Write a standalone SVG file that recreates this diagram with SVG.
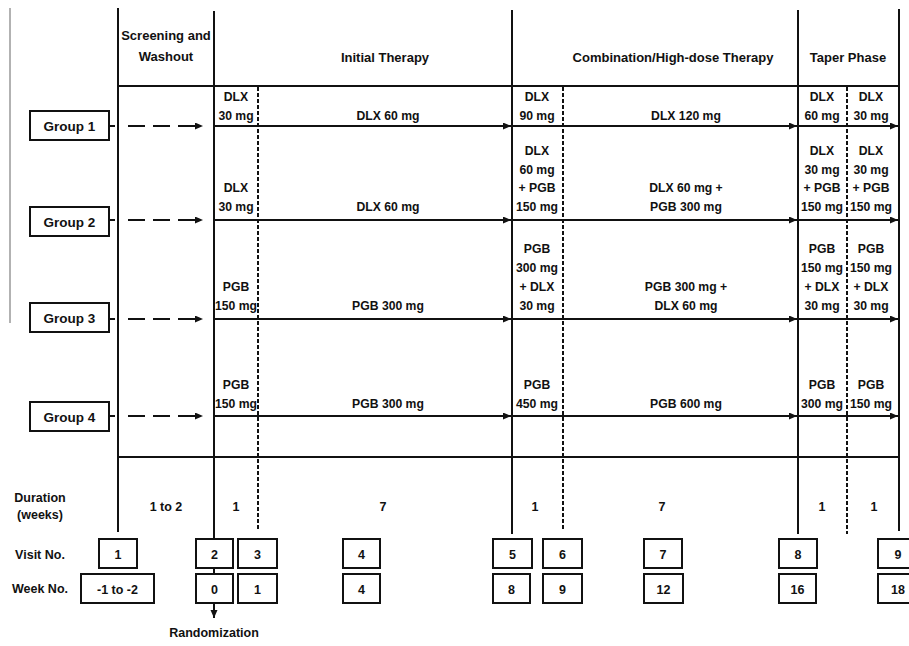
<svg xmlns="http://www.w3.org/2000/svg" width="909" height="646" viewBox="0 0 909 646">
<style>
text{font-family:"Liberation Sans",Arial,sans-serif;font-weight:bold;fill:#111;text-anchor:middle}
.h{font-size:13px}
.m{font-size:12.2px}
.g{font-size:13.5px}
.b{font-size:12.5px}
.ln{stroke:#111;stroke-width:2;fill:none}
.dv{stroke:#111;stroke-width:2;stroke-dasharray:4 2;fill:none}
.box{fill:#fff;stroke:#111;stroke-width:2}
.arr{stroke:#111;stroke-width:2;fill:none;marker-end:url(#ah)}
.darr{stroke:#111;stroke-width:2;fill:none;stroke-dasharray:5 13 17 8 17 8 17 100;marker-end:url(#ah)}
</style>
<defs>
<marker id="ah" markerUnits="userSpaceOnUse" viewBox="0 0 9 8" markerWidth="9" markerHeight="8" refX="8" refY="3.5" orient="auto"><path d="M0,0 L8,3.5 L0,7 z" fill="#111"/></marker>
</defs>
<rect width="909" height="646" fill="#fff"/>

<g id="grid">
<line x1="10" y1="8" x2="10" y2="323" stroke="#999" stroke-width="1.5"/>
<line class="ln" x1="118" y1="8" x2="118" y2="532"/>
<line class="ln" x1="214" y1="11" x2="214" y2="539"/>
<line class="ln" x1="512" y1="10" x2="512" y2="534"/>
<line class="ln" x1="798" y1="10" x2="798" y2="534"/>
<line class="ln" x1="899" y1="9" x2="899" y2="531"/>
<line class="ln" x1="117" y1="86" x2="900" y2="86"/>
<line class="ln" x1="117" y1="457" x2="900" y2="457"/>
<line class="dv" x1="258" y1="87" x2="258" y2="531"/>
<line class="dv" x1="563" y1="87" x2="563" y2="531"/>
<line class="dv" x1="847" y1="87" x2="847" y2="534"/>
</g>

<g id="headers">
<text class="h" x="166" y="40">Screening and</text>
<text class="h" x="166" y="61">Washout</text>
<text class="h" x="385" y="62">Initial Therapy</text>
<text class="h" x="673" y="62">Combination/High-dose Therapy</text>
<text class="h" x="848" y="62">Taper Phase</text>
</g>

<g id="group1"><rect class="box" x="30" y="111" width="79" height="29"/><text class="g" x="69.5" y="130.5">Group 1</text></g>
<g id="group2"><rect class="box" x="30" y="207" width="79" height="29"/><text class="g" x="69.5" y="226.5">Group 2</text></g>
<g id="group3"><rect class="box" x="30" y="303" width="79" height="29"/><text class="g" x="69.5" y="322.5">Group 3</text></g>
<g id="group4"><rect class="box" x="30" y="402" width="79" height="29"/><text class="g" x="69.5" y="421.5">Group 4</text></g>

<g id="connectors">
<line class="darr" x1="110" y1="126" x2="203" y2="126"/>
<line class="darr" x1="110" y1="220" x2="203" y2="220"/>
<line class="darr" x1="110" y1="319" x2="203" y2="319"/>
<line class="darr" x1="110" y1="416" x2="203" y2="416"/>
<line class="arr" x1="214" y1="126" x2="511" y2="126"/>
<line class="arr" x1="512" y1="126" x2="797" y2="126"/>
<line class="arr" x1="798" y1="126" x2="898" y2="126"/>
<line class="arr" x1="214" y1="220" x2="511" y2="220"/>
<line class="arr" x1="512" y1="220" x2="797" y2="220"/>
<line class="arr" x1="798" y1="220" x2="898" y2="220"/>
<line class="arr" x1="214" y1="319" x2="511" y2="319"/>
<line class="arr" x1="512" y1="319" x2="797" y2="319"/>
<line class="arr" x1="798" y1="319" x2="898" y2="319"/>
<line class="arr" x1="214" y1="416" x2="511" y2="416"/>
<line class="arr" x1="512" y1="416" x2="797" y2="416"/>
<line class="arr" x1="798" y1="416" x2="898" y2="416"/>
<line class="ln" x1="214" y1="568" x2="214" y2="574"/>
<line class="arr" x1="214" y1="603" x2="214" y2="618"/>
</g>

<g id="row1-labels">
<text class="m" x="236" y="101">DLX</text><text class="m" x="236" y="119.5">30 mg</text>
<text class="m" x="388" y="119.5">DLX 60 mg</text>
<text class="m" x="537" y="101">DLX</text><text class="m" x="537" y="119.5">90 mg</text>
<text class="m" x="686" y="119.5">DLX 120 mg</text>
<text class="m" x="822" y="101">DLX</text><text class="m" x="822" y="119.5">60 mg</text>
<text class="m" x="871" y="101">DLX</text><text class="m" x="871" y="119.5">30 mg</text>
</g>

<g id="row2-labels">
<text class="m" x="236" y="192">DLX</text><text class="m" x="236" y="211">30 mg</text>
<text class="m" x="388" y="211">DLX 60 mg</text>
<text class="m" x="537" y="155">DLX</text><text class="m" x="537" y="173.5">60 mg</text><text class="m" x="537" y="192">+ PGB</text><text class="m" x="537" y="211">150 mg</text>
<text class="m" x="686" y="192">DLX 60 mg +</text><text class="m" x="686" y="211">PGB 300 mg</text>
<text class="m" x="822" y="155">DLX</text><text class="m" x="822" y="173.5">30 mg</text><text class="m" x="822" y="192">+ PGB</text><text class="m" x="822" y="211">150 mg</text>
<text class="m" x="871" y="155">DLX</text><text class="m" x="871" y="173.5">30 mg</text><text class="m" x="871" y="192">+ PGB</text><text class="m" x="871" y="211">150 mg</text>
</g>

<g id="row3-labels">
<text class="m" x="236" y="291">PGB</text><text class="m" x="236" y="310">150 mg</text>
<text class="m" x="388" y="310">PGB 300 mg</text>
<text class="m" x="537" y="253">PGB</text><text class="m" x="537" y="272">300 mg</text><text class="m" x="537" y="291">+ DLX</text><text class="m" x="537" y="310">30 mg</text>
<text class="m" x="686" y="291">PGB 300 mg +</text><text class="m" x="686" y="310">DLX 60 mg</text>
<text class="m" x="822" y="253">PGB</text><text class="m" x="822" y="272">150 mg</text><text class="m" x="822" y="291">+ DLX</text><text class="m" x="822" y="310">30 mg</text>
<text class="m" x="871" y="253">PGB</text><text class="m" x="871" y="272">150 mg</text><text class="m" x="871" y="291">+ DLX</text><text class="m" x="871" y="310">30 mg</text>
</g>

<g id="row4-labels">
<text class="m" x="236" y="389">PGB</text><text class="m" x="236" y="408">150 mg</text>
<text class="m" x="388" y="408">PGB 300 mg</text>
<text class="m" x="537" y="389">PGB</text><text class="m" x="537" y="408">450 mg</text>
<text class="m" x="686" y="408">PGB 600 mg</text>
<text class="m" x="822" y="389">PGB</text><text class="m" x="822" y="408">300 mg</text>
<text class="m" x="871" y="389">PGB</text><text class="m" x="871" y="408">150 mg</text>
</g>

<g id="row-labels">
<text class="b" x="40" y="502">Duration</text>
<text class="b" x="40" y="519">(weeks)</text>
<text class="b" x="40" y="559">Visit No.</text>
<text class="b" x="40" y="593">Week No.</text>
<text class="b" x="214" y="637">Randomization</text>
</g>

<g id="durations">
<text class="b" x="166" y="511">1 to 2</text>
<text class="b" x="236" y="511">1</text>
<text class="b" x="383" y="511">7</text>
<text class="b" x="535" y="511">1</text>
<text class="b" x="662" y="511">7</text>
<text class="b" x="822" y="511">1</text>
<text class="b" x="874" y="511">1</text>
</g>

<g id="visit1"><rect class="box" x="99" y="539" width="38" height="29"/><text class="b" x="118" y="558.5">1</text></g>
<g id="visit2"><rect class="box" x="196" y="539" width="37" height="29"/><text class="b" x="214.5" y="558.5">2</text></g>
<g id="visit3"><rect class="box" x="238" y="539" width="39" height="29"/><text class="b" x="257.5" y="558.5">3</text></g>
<g id="visit4"><rect class="box" x="343" y="539" width="37" height="29"/><text class="b" x="361.5" y="558.5">4</text></g>
<g id="visit5"><rect class="box" x="493" y="539" width="39" height="29"/><text class="b" x="512.5" y="558.5">5</text></g>
<g id="visit6"><rect class="box" x="543" y="539" width="39" height="29"/><text class="b" x="562.5" y="558.5">6</text></g>
<g id="visit7"><rect class="box" x="644" y="539" width="38" height="29"/><text class="b" x="663" y="558.5">7</text></g>
<g id="visit8"><rect class="box" x="779" y="539" width="38" height="29"/><text class="b" x="798" y="558.5">8</text></g>
<g id="visit9"><rect class="box" x="878" y="539" width="40" height="29"/><text class="b" x="898" y="558.5">9</text></g>

<g id="week-1to-2"><rect class="box" x="81" y="574" width="73" height="29"/><text class="b" x="117.5" y="593.5">-1 to -2</text></g>
<g id="week0"><rect class="box" x="196" y="574" width="37" height="29"/><text class="b" x="214.5" y="593.5">0</text></g>
<g id="week1"><rect class="box" x="238" y="574" width="39" height="29"/><text class="b" x="257.5" y="593.5">1</text></g>
<g id="week4"><rect class="box" x="343" y="574" width="37" height="29"/><text class="b" x="361.5" y="593.5">4</text></g>
<g id="week8"><rect class="box" x="493" y="574" width="37" height="29"/><text class="b" x="511.5" y="593.5">8</text></g>
<g id="week9"><rect class="box" x="543" y="574" width="39" height="29"/><text class="b" x="562.5" y="593.5">9</text></g>
<g id="week12"><rect class="box" x="644" y="574" width="39" height="29"/><text class="b" x="663.5" y="593.5">12</text></g>
<g id="week16"><rect class="box" x="779" y="574" width="37" height="29"/><text class="b" x="797.5" y="593.5">16</text></g>
<g id="week18"><rect class="box" x="878" y="574" width="40" height="29"/><text class="b" x="898" y="593.5">18</text></g>
</svg>
